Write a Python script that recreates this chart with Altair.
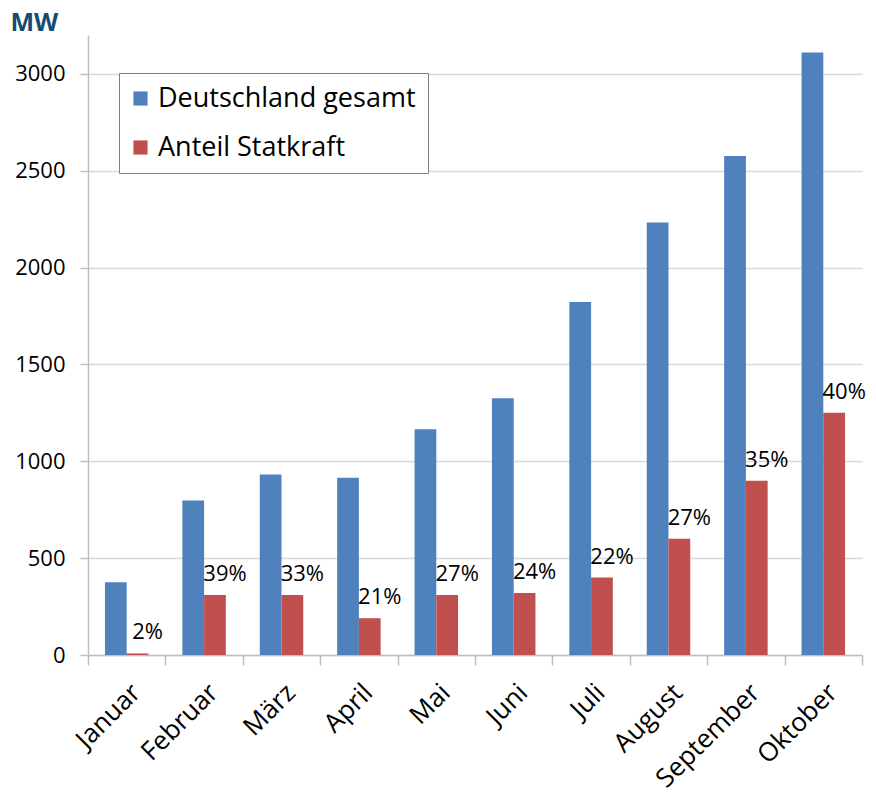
import altair as alt
import pandas as pd

months = ["Januar", "Februar", "März", "April", "Mai", "Juni", "Juli", "August", "September", "Oktober"]
total = [375, 797, 932, 915, 1165, 1325, 1822, 2232, 2575, 3110]
statkraft = [8, 310, 310, 190, 310, 320, 400, 600, 900, 1250]
pct_labels = ["2%", "39%", "33%", "21%", "27%", "24%", "22%", "27%", "35%", "40%"]
series = ["Deutschland gesamt", "Anteil Statkraft"]
colors = ["#4F81BD", "#C0504D"]

rows = []
for m, t, s, p in zip(months, total, statkraft, pct_labels):
    rows.append({"month": m, "series": series[0], "value": t, "label": ""})
    rows.append({"month": m, "series": series[1], "value": s, "label": p})
df = pd.DataFrame(rows)

FONT = "Open Sans"

x_enc = alt.X("month:N", sort=months,
              scale=alt.Scale(domain=months, paddingInner=0, paddingOuter=0),
              axis=alt.Axis(title=None, labelAngle=-45, labelAlign="right", labelBaseline="top",
                            tickBand="extent", tickSize=10, tickColor="#BFBFBF", tickWidth=1.5,
                            domainColor="#BFBFBF", domainWidth=1.5, labelFontSize=26,
                            labelFont=FONT, labelColor="#000000", labelPadding=14, grid=False))
xo_enc = alt.XOffset("series:N", scale=alt.Scale(domain=series, paddingInner=0, paddingOuter=0.78))
y_enc = alt.Y("value:Q",
              scale=alt.Scale(domain=[0, 3200], nice=False),
              axis=alt.Axis(values=[0, 500, 1000, 1500, 2000, 2500, 3000], format="d", title="MW",
                            titleAngle=0, titleAlign="left", titleBaseline="top",
                            titleX=-78, titleY=-25, titleFont=FONT, titleFontSize=25,
                            titleFontWeight="bold", titleColor="#154A72",
                            labelFont=FONT, labelFontSize=22, labelColor="#000000",
                            labelPadding=15, tickSize=8, tickColor="#BFBFBF", tickWidth=1.5,
                            domainColor="#BFBFBF", domainWidth=1.5,
                            grid=True, gridColor="#D9D9D9", gridWidth=1.5))

bars = alt.Chart(df).mark_bar().encode(
    x=x_enc, xOffset=xo_enc, y=y_enc,
    color=alt.Color("series:N", scale=alt.Scale(domain=series, range=colors),
                    legend=alt.Legend(title=None, orient="none", legendX=31, legendY=38,
                                      symbolType="square", symbolSize=200, symbolStrokeWidth=0,
                                      symbolOffset=-4,
                                      labelFont=FONT, labelFontSize=27, labelColor="#000000",
                                      labelOffset=4, rowPadding=21, padding=12,
                                      strokeColor="#7F7F7F", fillColor="#FFFFFF",
                                      labelLimit=400)),
)

texts = alt.Chart(df).transform_filter(alt.datum.series == series[1]).mark_text(
    align="center", baseline="bottom", dx=10, dy=-9, fontSize=22, font=FONT, color="#000000"
).encode(x=x_enc, xOffset=xo_enc, y=y_enc, text="label:N")

chart = alt.layer(bars, texts).properties(
    width=774, height=620,
    autosize=alt.AutoSizeParams(type="none"),
    padding={"left": 80, "top": 27, "right": 5, "bottom": 142},
).configure_view(stroke=None)

chart.save("out.html", embed_options={"renderer": "svg", "actions": False})
